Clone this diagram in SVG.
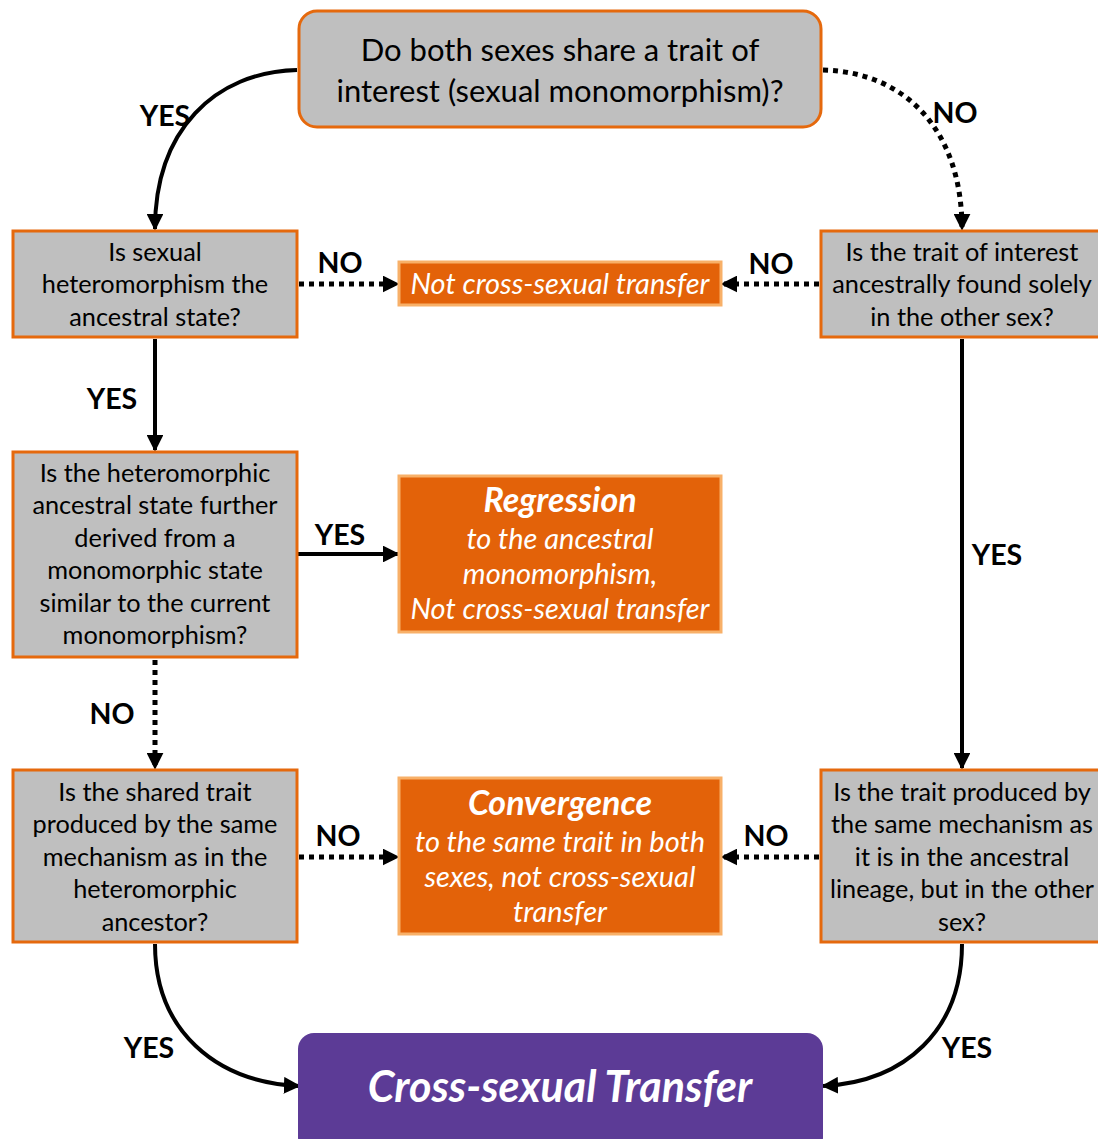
<svg xmlns="http://www.w3.org/2000/svg" width="1098" height="1139" viewBox="0 0 1098 1139">
<defs>
<style>
.q{fill:#bfbfbf;stroke:#e5690d;stroke-width:3}
.r{fill:#e36209;stroke:#f8b068;stroke-width:3}
.p{fill:#5c3b96}
.t{font-family:Lato,"Open Sans",sans-serif;font-size:25.3px;fill:#000;text-anchor:middle}
.tt{font-size:31px}
.w{font-family:Lato,"Open Sans",sans-serif;font-style:italic;fill:#fff;text-anchor:middle;font-size:29px}
.wb{font-weight:bold;font-size:34px}
.big{font-weight:bold;font-size:43px}
.lab{font-family:Lato,"Open Sans",sans-serif;font-weight:bold;font-size:28.5px;fill:#000;text-anchor:middle}
.s{fill:none;stroke:#000;stroke-width:4}
.d{fill:none;stroke:#000;stroke-width:5;stroke-dasharray:5 5}
</style>
<marker id="a" viewBox="0 0 10 10" refX="9" refY="5" markerWidth="4.2" markerHeight="4.2" orient="auto" markerUnits="strokeWidth">
<path d="M0,0 L10,5 L0,10 z" fill="#000"/>
</marker>
<marker id="ad" viewBox="0 0 10 10" refX="9" refY="5" markerWidth="3.4" markerHeight="3.4" orient="auto" markerUnits="strokeWidth">
<path d="M0,0 L10,5 L0,10 z" fill="#000"/>
</marker>
</defs>
<rect width="1098" height="1139" fill="#fff"/>

<g id="connectors">
<path class="s" d="M297,70 C215,72 155,130 155,229" marker-end="url(#a)"/>
<path class="d" d="M823,70 C905,72 962,130 962,229" marker-end="url(#ad)"/>
<path class="d" d="M299,284 L398,284" marker-end="url(#ad)"/>
<path class="d" d="M819,284 L722,284" marker-end="url(#ad)"/>
<path class="s" d="M155,339 L155,450" marker-end="url(#a)"/>
<path class="s" d="M298,554 L398,554" marker-end="url(#a)"/>
<path class="d" d="M155,660 L155,768" marker-end="url(#ad)"/>
<path class="s" d="M962,339 L962,768" marker-end="url(#a)"/>
<path class="d" d="M299,857 L398,857" marker-end="url(#ad)"/>
<path class="d" d="M819,857 L722,857" marker-end="url(#ad)"/>
<path class="s" d="M155,944 C155,1030 215,1082 299,1086" marker-end="url(#a)"/>
<path class="s" d="M962,944 C962,1030 905,1082 823,1086" marker-end="url(#a)"/>
<text class="lab" x="165" y="126">YES</text>
<text class="lab" x="955" y="123">NO</text>
<text class="lab" x="340" y="273">NO</text>
<text class="lab" x="771" y="274">NO</text>
<text class="lab" x="112" y="409">YES</text>
<text class="lab" x="340" y="545">YES</text>
<text class="lab" x="112" y="724">NO</text>
<text class="lab" x="997" y="565">YES</text>
<text class="lab" x="338" y="846">NO</text>
<text class="lab" x="766" y="846">NO</text>
<text class="lab" x="149" y="1058">YES</text>
<text class="lab" x="967" y="1058">YES</text>
</g>

<g id="n-top">
<rect class="q" x="299" y="11" width="522" height="116" rx="18"/>
<text class="t tt" x="560" y="61">Do both sexes share a trait of</text>
<text class="t tt" x="560" y="102">interest (sexual monomorphism)?</text>
</g>

<g id="n-hetero">
<rect class="q" x="13" y="231" width="284" height="106"/>
<text class="t" x="155" y="261">Is sexual</text>
<text class="t" x="155" y="293">heteromorphism the</text>
<text class="t" x="155" y="326">ancestral state?</text>
</g>

<g id="n-other">
<rect class="q" x="821" y="231" width="284" height="106"/>
<text class="t" x="962" y="261">Is the trait of interest</text>
<text class="t" x="962" y="293">ancestrally found solely</text>
<text class="t" x="962" y="326">in the other sex?</text>
</g>

<g id="n-not">
<rect class="r" x="399" y="262" width="322" height="43"/>
<text class="w" x="560" y="294">Not cross-sexual transfer</text>
</g>

<g id="n-derived">
<rect class="q" x="13" y="452" width="284" height="205"/>
<text class="t" x="155" y="482">Is the heteromorphic</text>
<text class="t" x="155" y="514">ancestral state further</text>
<text class="t" x="155" y="547">derived from a</text>
<text class="t" x="155" y="579">monomorphic state</text>
<text class="t" x="155" y="612">similar to the current</text>
<text class="t" x="155" y="644">monomorphism?</text>
</g>

<g id="n-regression">
<rect class="r" x="399" y="476" width="322" height="156"/>
<text class="w wb" x="560" y="512">Regression</text>
<text class="w" x="560" y="549">to the ancestral</text>
<text class="w" x="560" y="584">monomorphism,</text>
<text class="w" x="560" y="619">Not cross-sexual transfer</text>
</g>

<g id="n-shared">
<rect class="q" x="13" y="770" width="284" height="172"/>
<text class="t" x="155" y="801">Is the shared trait</text>
<text class="t" x="155" y="833">produced by the same</text>
<text class="t" x="155" y="866">mechanism as in the</text>
<text class="t" x="155" y="898">heteromorphic</text>
<text class="t" x="155" y="931">ancestor?</text>
</g>

<g id="n-convergence">
<rect class="r" x="399" y="778" width="322" height="156"/>
<text class="w wb" x="560" y="815">Convergence</text>
<text class="w" x="560" y="852">to the same trait in both</text>
<text class="w" x="560" y="887">sexes, not cross-sexual</text>
<text class="w" x="560" y="922">transfer</text>
</g>

<g id="n-mechanism">
<rect class="q" x="821" y="770" width="284" height="172"/>
<text class="t" x="962" y="801">Is the trait produced by</text>
<text class="t" x="962" y="833">the same mechanism as</text>
<text class="t" x="962" y="866">it is in the ancestral</text>
<text class="t" x="962" y="898">lineage, but in the other</text>
<text class="t" x="962" y="931">sex?</text>
</g>

<g id="n-transfer">
<rect class="p" x="298" y="1033" width="525" height="120" rx="16"/>
<text class="w big" x="560" y="1102">Cross-sexual Transfer</text>
</g>
</svg>
